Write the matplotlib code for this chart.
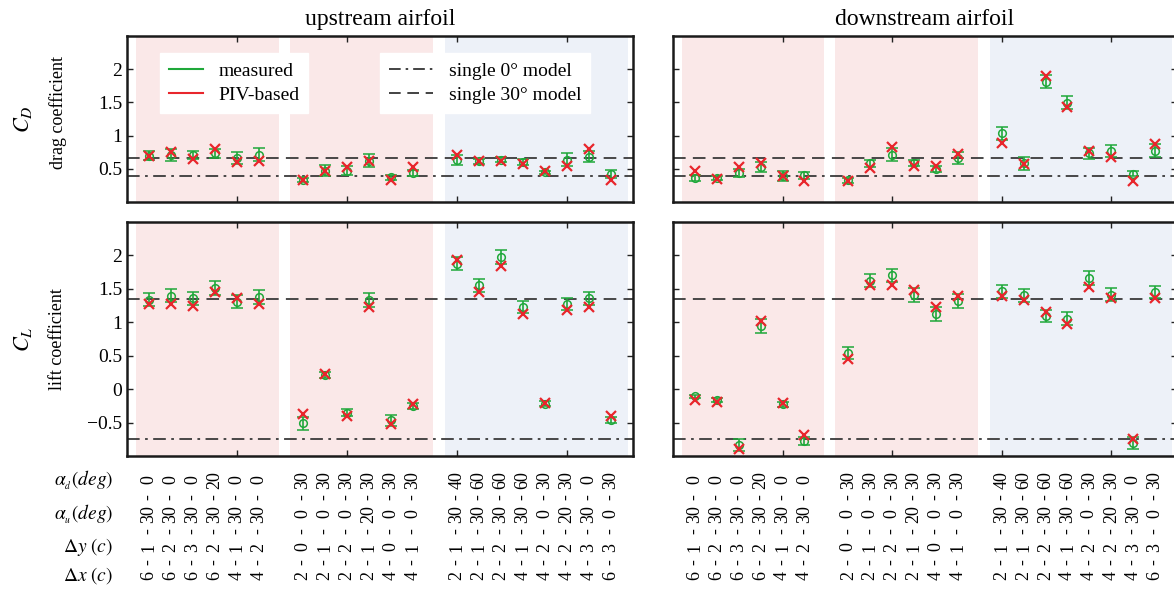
import matplotlib
matplotlib.use('Agg')
import matplotlib.pyplot as plt
from matplotlib.lines import Line2D
from matplotlib.transforms import blended_transform_factory

plt.rcParams['font.family'] = ['Liberation Serif', 'DejaVu Serif']
plt.rcParams['mathtext.fontset'] = 'stix'
plt.rcParams['axes.unicode_minus'] = True

# configurations (downstream angle, upstream angle, dy, dx)
alpha_d = ['0', '0', '0', '20', '0', '0',
           '30', '30', '30', '30', '30', '30',
           '40', '60', '60', '60', '30', '30', '0', '30']
alpha_u = ['30', '30', '30', '30', '30', '30',
           '0', '0', '0', '20', '0', '0',
           '30', '30', '30', '30', '0', '20', '30', '0']
dy = ['1', '2', '3', '2', '1', '2',
      '0', '1', '2', '1', '0', '1',
      '1', '1', '2', '1', '2', '2', '3', '3']
dx = ['6', '6', '6', '6', '4', '4',
      '2', '2', '2', '2', '4', '4',
      '2', '2', '2', '4', '4', '4', '4', '6']
group_sizes = [6, 6, 8]

# drag, upstream airfoil
cd_up_meas = [0.70, 0.71, 0.71, 0.735, 0.66, 0.71,
              0.325, 0.47, 0.47, 0.62, 0.37, 0.435,
              0.635, 0.61, 0.635, 0.60, 0.445, 0.635, 0.685, 0.425]
cd_up_err = [0.07, 0.09, 0.065, 0.07, 0.09, 0.1,
             0.03, 0.08, 0.07, 0.1, 0.04, 0.05,
             0.08, 0.04, 0.04, 0.05, 0.02, 0.1, 0.09, 0.06]
cd_up_piv = [0.70, 0.76, 0.645, 0.795, 0.60, 0.62,
             0.325, 0.46, 0.52, 0.62, 0.335, 0.52,
             0.71, 0.61, 0.62, 0.57, 0.46, 0.535, 0.795, 0.325]

# drag, downstream airfoil
cd_dn_meas = [0.36, 0.36, 0.435, 0.52, 0.385, 0.40,
              0.325, 0.585, 0.71, 0.585, 0.495, 0.66,
              1.035, 0.585, 1.81, 1.495, 0.735, 0.775, 0.425, 0.775]
cd_dn_err = [0.05, 0.03, 0.055, 0.075, 0.075, 0.05,
             0.035, 0.055, 0.1, 0.045, 0.04, 0.09,
             0.095, 0.1, 0.1, 0.1, 0.08, 0.09, 0.04, 0.1]
cd_dn_piv = [0.46, 0.35, 0.52, 0.585, 0.395, 0.31,
             0.31, 0.51, 0.825, 0.535, 0.535, 0.725,
             0.885, 0.57, 1.90, 1.425, 0.775, 0.685, 0.32, 0.87]

# lift, upstream airfoil
cl_up_meas = [1.34, 1.40, 1.36, 1.52, 1.31, 1.38,
              -0.51, 0.21, -0.35, 1.34, -0.465, -0.25,
              1.875, 1.555, 1.975, 1.23, -0.215, 1.28, 1.36, -0.46]
cl_up_err = [0.095, 0.1, 0.1, 0.105, 0.1, 0.1,
             0.1, 0.04, 0.05, 0.105, 0.08, 0.045,
             0.1, 0.095, 0.1, 0.09, 0.04, 0.09, 0.1, 0.045]
cl_up_piv = [1.27, 1.28, 1.25, 1.45, 1.36, 1.28,
             -0.375, 0.23, -0.40, 1.23, -0.515, -0.215,
             1.925, 1.455, 1.84, 1.12, -0.20, 1.18, 1.23, -0.40]

# lift, downstream airfoil
cl_dn_meas = [-0.11, -0.16, -0.84, 0.945, -0.225, -0.775,
              0.535, 1.625, 1.70, 1.415, 1.12, 1.32,
              1.465, 1.405, 1.095, 1.055, 1.665, 1.415, -0.81, 1.45]
cl_dn_err = [0.02, 0.035, 0.09, 0.105, 0.035, 0.06,
             0.09, 0.095, 0.1, 0.105, 0.105, 0.105,
             0.1, 0.1, 0.09, 0.095, 0.1, 0.1, 0.09, 0.09]
cl_dn_piv = [-0.16, -0.19, -0.89, 1.02, -0.21, -0.69,
             0.455, 1.555, 1.565, 1.49, 1.23, 1.39,
             1.39, 1.33, 1.16, 0.98, 1.525, 1.365, -0.75, 1.36]

# single airfoil reference values
cd_single_0 = 0.385
cd_single_30 = 0.66
cl_single_0 = -0.75
cl_single_30 = 1.35

# x positions: groups separated by one empty slot
xpos = []
start = 1
for n in group_sizes:
    xpos += list(range(start, start + n))
    start += n + 1

spans = [(0.4, 6.9), (7.4, 13.9), (14.45, 22.75)]
span_colors = ['#fae8e8', '#fae8e8', '#edf1f8']

green = '#1fa83a'
red = '#e8262c'
lc = '#3a3a3a'

fig = plt.figure(figsize=(11.74, 5.92), dpi=100)
W, H = 1174, 592


def make_ax(x0, y0, x1, y1):
    return fig.add_axes([x0 / W, 1 - y1 / H, (x1 - x0) / W, (y1 - y0) / H])


ax_cd_up = make_ax(127, 36, 633, 202)
ax_cd_dn = make_ax(673, 36, 1177, 202)
ax_cl_up = make_ax(127, 222, 633, 456)
ax_cl_dn = make_ax(673, 222, 1177, 456)

panels = [
    (ax_cd_up, cd_up_meas, cd_up_err, cd_up_piv, cd_single_0, cd_single_30, (0, 2.5), [0.5, 1, 1.5, 2]),
    (ax_cd_dn, cd_dn_meas, cd_dn_err, cd_dn_piv, cd_single_0, cd_single_30, (0, 2.5), [0.5, 1, 1.5, 2]),
    (ax_cl_up, cl_up_meas, cl_up_err, cl_up_piv, cl_single_0, cl_single_30, (-1, 2.5), [-0.5, 0, 0.5, 1, 1.5, 2]),
    (ax_cl_dn, cl_dn_meas, cl_dn_err, cl_dn_piv, cl_single_0, cl_single_30, (-1, 2.5), [-0.5, 0, 0.5, 1, 1.5, 2]),
]

for i, (ax, meas, err, piv, s0, s30, ylim, yt) in enumerate(panels):
    for (a, b), c in zip(spans, span_colors):
        ax.axvspan(a, b, color=c, lw=0, zorder=0)
    ax.axhline(s30, color=lc, ls=(0, (7, 4)), lw=1.3, zorder=1)
    ax.axhline(s0, color=lc, ls=(0, (7, 3, 1.5, 3)), lw=1.3, zorder=1)
    ax.errorbar(xpos, meas, yerr=err, fmt='o', mfc='none', mec=green, color=green,
                ms=5.5, mew=1.1, elinewidth=1.2, capsize=4, capthick=1.2, zorder=3)
    ax.plot(xpos, piv, 'x', color=red, ms=7, mew=1.6, zorder=4)
    ax.set_xlim(0, 23)
    ax.set_ylim(*ylim)
    ax.set_xticks([5, 10, 15, 20])
    ax.set_yticks(yt)
    ax.set_yticklabels([('%g' % v).replace('-', '\u2212') for v in yt])
    ax.tick_params(direction='in', top=True, right=True, length=4, width=1,
                   labelbottom=False, labelsize=14, color='#222222')
    if i % 2 == 1:
        ax.tick_params(labelleft=False)
    for sp in ax.spines.values():
        sp.set_linewidth(1.8)
        sp.set_color('#1a1a1a')

ax_cd_up.set_title('upstream airfoil', fontsize=17, pad=8)
ax_cd_dn.set_title('downstream airfoil', fontsize=17, pad=8)

fig.text(23 / W, 1 - 119 / H, r'$C_D$', rotation=90, ha='center', va='center', fontsize=16)
fig.text(58 / W, 1 - 112 / H, 'drag coefficient', rotation=90, ha='center', va='center', fontsize=13)
fig.text(23 / W, 1 - 339 / H, r'$C_L$', rotation=90, ha='center', va='center', fontsize=16)
fig.text(58 / W, 1 - 339 / H, 'lift coefficient', rotation=90, ha='center', va='center', fontsize=13)

# legends
h_meas = Line2D([], [], color=green, lw=1.5)
h_piv = Line2D([], [], color=red, lw=1.5)
h_s0 = Line2D([], [], color='#222222', ls=(0, (7, 3, 1.5, 3)), lw=1.2)
h_s30 = Line2D([], [], color='#222222', ls=(0, (7, 4)), lw=1.2)
leg_kw = dict(loc='upper left', fontsize=14, frameon=True, fancybox=False,
              edgecolor='white', framealpha=1, handletextpad=0.8,
              borderpad=0.45, labelspacing=0.35, borderaxespad=0)
leg1 = ax_cd_up.legend([h_meas, h_piv], ['measured', 'PIV-based'],
                       bbox_to_anchor=(0.065, 0.895), handlelength=1.75, **leg_kw)
ax_cd_up.add_artist(leg1)
ax_cd_up.legend([h_s0, h_s30], ['single 0° model', 'single 30° model'],
                bbox_to_anchor=(0.5, 0.895), handlelength=2.3, **leg_kw)

# configuration labels under the lift panels
row_y = [480, 514, 547, 576]
dash_y = [497, 531, 562]
row_names = [r'$\alpha_{_d}(deg)$', r'$\alpha_{_u}(deg)$', r'$\mathit{\Delta y}\ (c)$', r'$\mathit{\Delta x}\ (c)$']
for name, y in zip(row_names, row_y):
    fig.text(113 / W, 1 - y / H, name, ha='right', va='center', fontsize=14)

for ax in (ax_cl_up, ax_cl_dn):
    tr = blended_transform_factory(ax.transData, fig.transFigure)
    for k, x in enumerate(xpos):
        vals = [alpha_d[k], alpha_u[k], dy[k], dx[k]]
        for v, y in zip(vals, row_y):
            ax.text(x, 1 - y / H, v, transform=tr, rotation=90, ha='center', va='center',
                    fontsize=13, clip_on=False)
        for y in dash_y:
            ax.text(x, 1 - y / H, '-', transform=tr, rotation=90, ha='center', va='center',
                    fontsize=13, clip_on=False)

fig.savefig('out.png', dpi=100)
